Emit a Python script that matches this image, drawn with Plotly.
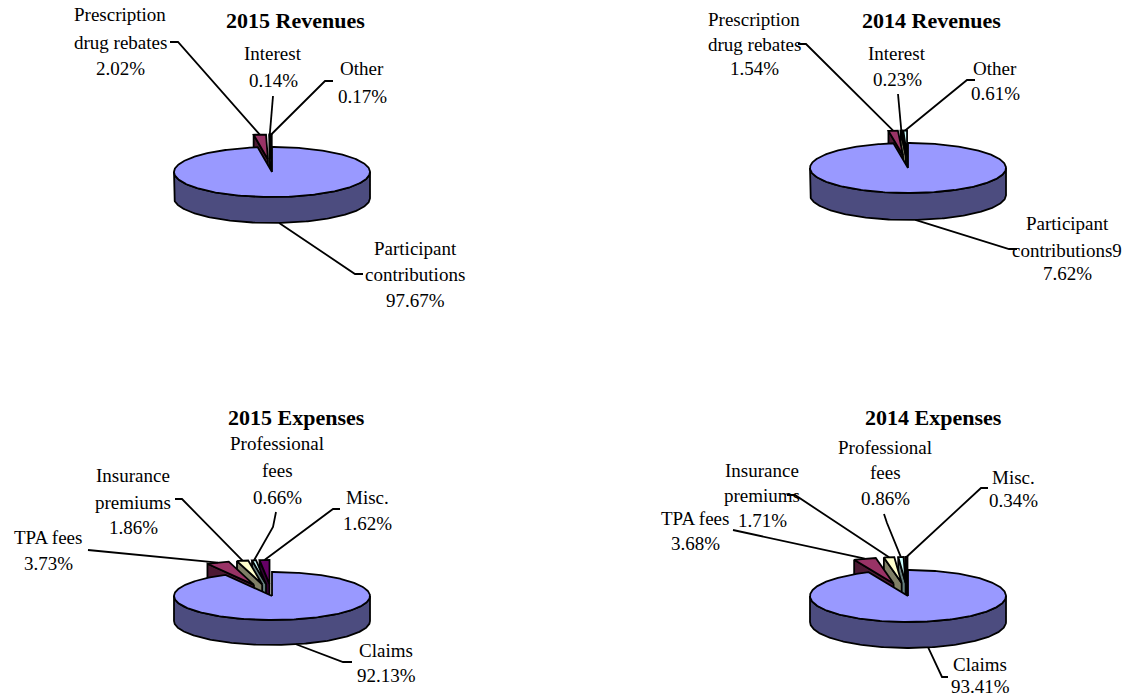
import numpy as np
import plotly.graph_objects as go

# ---------------- data ----------------
rev_labels = ["Participant contributions", "Prescription drug rebates", "Interest", "Other"]
rev_2015 = [97.67, 2.02, 0.14, 0.17]
rev_2014 = [97.62, 1.54, 0.23, 0.61]

exp_labels = ["Claims", "TPA fees", "Insurance premiums", "Professional fees", "Misc."]
exp_2015 = [92.13, 3.73, 1.86, 0.66, 1.62]
exp_2014 = [93.41, 3.68, 1.71, 0.86, 0.34]

rev_colors = ["#9999FF", "#993366", "#FFFFCC", "#CCFFFF"]
exp_colors = ["#9999FF", "#993366", "#FFFFCC", "#CCFFFF", "#660066"]

# ---------------- helpers ----------------
W, H = 1124, 698
FONT = "Liberation Serif, Times New Roman, serif"
EXPLODE = 0.5
RX = 98


def darker(hexcol, f=0.5):
    h = hexcol.lstrip("#")
    r, g, b = (int(h[i:i + 2], 16) for i in (0, 2, 4))
    return "#%02X%02X%02X" % (int(r * f), int(g * f), int(b * f))


fig = go.Figure()


def poly(xs, ys, fill):
    xs = list(xs) + [xs[0]]
    ys = list(ys) + [ys[0]]
    fig.add_trace(go.Scatter(x=xs, y=ys, mode="lines", fill="toself",
                             fillcolor=fill, line=dict(color="black", width=1.8),
                             hoverinfo="skip", showlegend=False))


def draw_pie(values, colors, cx, cy, rx, ry, depth):
    total = float(sum(values))
    bounds = np.concatenate([[0.0], np.cumsum(values) / total * 360.0])
    info = []
    for i in range(len(values)):
        a0, a1 = bounds[i], bounds[i + 1]
        mid = np.radians((a0 + a1) / 2)
        e = 0.0 if i == 0 else EXPLODE
        ox = e * rx * np.sin(mid)
        oy = -e * ry * np.cos(mid)
        info.append((i, a0, a1, mid, ox, oy))

    def P(th_deg, ox, oy, dz=0.0):
        t = np.radians(th_deg)
        return cx + ox + rx * np.sin(t), cy + oy - ry * np.cos(t) + dz

    # back-most first, main slice last
    order = sorted(info[1:], key=lambda s: -np.cos(s[3])) + [info[0]]
    ends = {}
    for (i, a0, a1, mid, ox, oy) in order:
        col = colors[i]
        side = darker(col)
        C = (cx + ox, cy + oy)
        # radial walls facing the viewer
        for ang, facing in ((a0, -np.sin(np.radians(a0))), (a1, np.sin(np.radians(a1)))):
            if facing > 1e-6:
                px, py = P(ang, ox, oy)
                poly([C[0], px, px, C[0]], [C[1], py, py + depth, C[1] + depth], side)
        # outer wall (front half)
        lo, hi = max(a0, 90.0), min(a1, 270.0)
        if hi > lo:
            th = np.linspace(lo, hi, int(hi - lo) + 2)
            tx = [P(t, ox, oy)[0] for t in th]
            ty = [P(t, ox, oy)[1] for t in th]
            poly(tx + tx[::-1], ty + [y + depth for y in ty[::-1]], side)
        # top face
        th = np.linspace(a0, a1, max(2, int(a1 - a0) + 2))
        tx = [C[0]] + [P(t, ox, oy)[0] for t in th]
        ty = [C[1]] + [P(t, ox, oy)[1] for t in th]
        poly(tx, ty, col)
        # leader end point
        px, py = P(np.degrees(mid), ox, oy)
        if np.cos(mid) < 0:
            py += depth
        ends[i] = (px, py)
    return ends


def pct(v):
    return "%.2f%%" % v


charts = [
    dict(values=rev_2015, colors=rev_colors, cx=272, cy=172, ry=25, depth=26,
         title=("2015 Revenues", 295, 20),
         labels=[
             (["Participant", "contributions", pct(rev_2015[0])], 415, [248, 274, 300], [(363, 274), (355, 274)]),
             (["Prescription", "drug rebates", pct(rev_2015[1])], 120, [14, 42, 68], [(170, 42), (178, 42)]),
             (["Interest", pct(rev_2015[2])], 273, [53, 80], [(273, 96)]),
             (["Other", pct(rev_2015[3])], 362, [68, 96], [(333, 81), (325, 81)]),
         ]),
    dict(values=rev_2014, colors=rev_colors, cx=908, cy=168, ry=25, depth=27,
         title=("2014 Revenues", 931, 20),
         labels=[
             (["Participant", "contributions" + pct(rev_2014[0])[0], pct(rev_2014[0])[1:]], 1067, [223, 250, 273],
              [(1017, 249), (1009, 249)]),
             (["Prescription", "drug rebates", pct(rev_2014[1])], 754, [19, 44, 68], [(798, 44), (806, 44)]),
             (["Interest", pct(rev_2014[2])], 897, [53, 79], [(898, 94)]),
             (["Other", pct(rev_2014[3])], 995, [68, 93], [(975, 80), (967, 80)]),
         ]),
    dict(values=exp_2015, colors=exp_colors, cx=272, cy=596, ry=24, depth=25,
         title=("2015 Expenses", 296, 417),
         labels=[
             (["Claims", pct(exp_2015[0])], 386, [650, 675], [(352, 662), (343, 662)]),
             (["TPA fees", pct(exp_2015[1])], 48, [537, 563], [(88, 550)]),
             (["Insurance", "premiums", pct(exp_2015[2])], 133, [475, 502, 527], [(175, 499), (182, 499)]),
             (["Professional", "fees", pct(exp_2015[3])], 277, [443, 470, 497], [(276, 512), (273, 527)]),
             (["Misc.", pct(exp_2015[4])], 367, [497, 523], [(340, 509), (333, 509)]),
         ]),
    dict(values=exp_2014, colors=exp_colors, cx=908, cy=596, ry=26, depth=26,
         title=("2014 Expenses", 933, 417),
         labels=[
             (["Claims", pct(exp_2014[0])], 980, [664, 686], [(948, 677), (942, 677)]),
             (["TPA fees", pct(exp_2014[1])], 695, [518, 543], [(733, 530)]),
             (["Insurance", "premiums", pct(exp_2014[2])], 762, [470, 495, 520], [(787, 495), (795, 495)]),
             (["Professional", "fees", pct(exp_2014[3])], 885, [447, 472, 498], [(884, 514), (887, 523)]),
             (["Misc.", pct(exp_2014[4])], 1013, [477, 500], [(988, 488), (981, 488)]),
         ]),
]

annotations = []
for ch in charts:
    ends = draw_pie(ch["values"], ch["colors"], ch["cx"], ch["cy"], RX, ch["ry"], ch["depth"])
    t, tx, ty = ch["title"]
    annotations.append(dict(text="<b>%s</b>" % t, x=tx, y=ty, xref="x", yref="y", showarrow=False,
                            xanchor="center", yanchor="middle",
                            font=dict(family=FONT, size=22, color="black")))
    for idx, (lines, lx, lys, path) in enumerate(ch["labels"]):
        for s, ly in zip(lines, lys):
            annotations.append(dict(text=s, x=lx, y=ly, xref="x", yref="y", showarrow=False,
                                    xanchor="center", yanchor="middle",
                                    font=dict(family=FONT, size=19, color="black")))
        ex, ey = ends[idx]
        xs = [p[0] for p in path] + [ex]
        ys = [p[1] for p in path] + [ey]
        fig.add_trace(go.Scatter(x=xs, y=ys, mode="lines", line=dict(color="black", width=1.8),
                                 hoverinfo="skip", showlegend=False))

fig.update_layout(
    width=W, height=H,
    margin=dict(l=0, r=0, t=0, b=0),
    paper_bgcolor="white", plot_bgcolor="white",
    xaxis=dict(range=[0, W], visible=False, fixedrange=True),
    yaxis=dict(range=[H, 0], visible=False, fixedrange=True),
    annotations=annotations,
)

fig.write_html("out.html", config={"displayModeBar": False},
               post_script="document.body.style.margin='0';document.body.style.overflow='hidden';")
